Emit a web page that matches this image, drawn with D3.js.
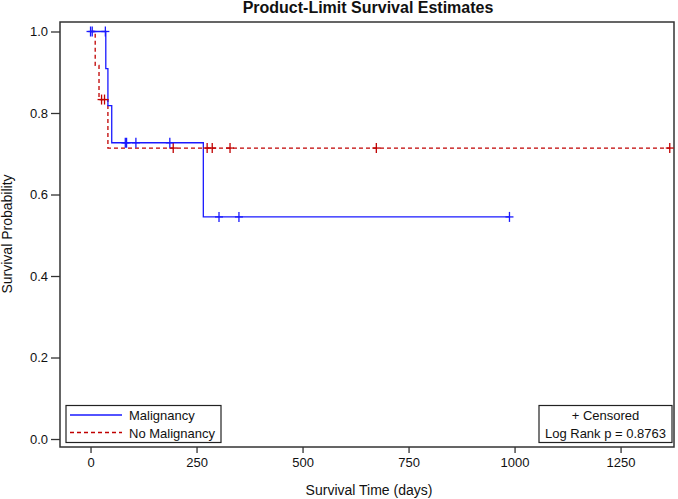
<!DOCTYPE html>
<html><head><meta charset="utf-8">
<script src="https://cdn.jsdelivr.net/npm/d3@7"></script>
<style>body{margin:0;background:#fff}svg{display:block}text{font-family:Arial,"Liberation Sans",sans-serif}</style>
</head><body><svg id="c" width="678" height="499"></svg>
<script>
// Malignancy (blue, solid)
const malEventTimes = [36, 41, 50, 266];
const malSurvival = [0.909, 0.818, 0.727, 0.545];
const malLastTime = 988;
const malCensorTimes = [0, 4, 35, 82, 85, 107, 187, 303, 350, 988];
// No Malignancy (red, dashed)
const noEventTimes = [11, 20, 41];
const noSurvival = [0.917, 0.833, 0.714];
const noLastTime = 1366;
const noCensorTimes = [26, 33, 195, 275, 287, 329, 674, 1366];
const xTicks = [0, 250, 500, 750, 1000, 1250];
const yTicks = [0.0, 0.2, 0.4, 0.6, 0.8, 1.0];
const legendLabels = ["Malignancy", "No Malignancy"];
const statLabels = ["+ Censored", "Log Rank p = 0.8763"];

const svg = d3.select("#c");
const L = 60, R = 674, T = 22, B = 447;
const x = d3.scaleLinear().domain([-72, 1376]).range([L, R]);
const y = d3.scaleLinear().domain([-0.0196, 1.0233]).range([B, T]);

function steps(evT, surv, last) {
  const pts = [[0, 1]];
  let s = 1;
  evT.forEach((t, i) => { pts.push([t, s]); s = surv[i]; pts.push([t, s]); });
  pts.push([last, s]);
  return pts;
}
function survAt(evT, surv, t) {
  let s = 1;
  evT.forEach((e, i) => { if (e <= t) s = surv[i]; });
  return s;
}
const line = d3.line().x(d => x(d[0])).y(d => y(d[1]));

// frame
svg.append("rect").attr("x", L).attr("y", T).attr("width", R - L).attr("height", B - T)
  .attr("fill", "none").attr("stroke", "#333").attr("stroke-width", 1.5);

// axes
const xa = svg.append("g").attr("transform", `translate(0,${B})`)
  .call(d3.axisBottom(x).tickValues(xTicks).tickSize(6).tickPadding(5).tickFormat(d3.format("d")));
const ya = svg.append("g").attr("transform", `translate(${L},0)`)
  .call(d3.axisLeft(y).tickValues(yTicks).tickSize(9).tickPadding(3).tickFormat(d3.format(".1f")));
[xa, ya].forEach(g => {
  g.select(".domain").remove();
  g.selectAll("line").attr("stroke", "#333").attr("stroke-width", 1.3);
  g.selectAll("text").attr("font-size", 13).attr("fill", "#111").attr("font-family", "Arial, 'Liberation Sans', sans-serif");
});

// curves
const blue = "#1a1aff", red = "#c00000";
svg.append("path").datum(steps(noEventTimes, noSurvival, noLastTime)).attr("d", line)
  .attr("fill", "none").attr("stroke", red).attr("stroke-width", 1.3).attr("stroke-dasharray", "4,3");
svg.append("path").datum(steps(malEventTimes, malSurvival, malLastTime)).attr("d", line)
  .attr("fill", "none").attr("stroke", blue).attr("stroke-width", 1.3);

function censors(times, evT, surv, color) {
  const g = svg.append("g").attr("stroke", color).attr("stroke-width", 1.3);
  times.forEach(t => {
    const cx = x(t), cy = y(survAt(evT, surv, t));
    g.append("line").attr("x1", cx - 4).attr("x2", cx + 4).attr("y1", cy).attr("y2", cy);
    g.append("line").attr("x1", cx).attr("x2", cx).attr("y1", cy - 5).attr("y2", cy + 5);
  });
}
censors(noCensorTimes, noEventTimes, noSurvival, red);
censors(malCensorTimes, malEventTimes, malSurvival, blue);

// title and axis labels
svg.append("text").attr("x", 368).attr("y", 13).attr("text-anchor", "middle")
  .attr("font-size", 16).attr("font-weight", "bold").attr("fill", "#111").text("Product-Limit Survival Estimates");
svg.append("text").attr("x", 369).attr("y", 495).attr("text-anchor", "middle")
  .attr("font-size", 14).attr("fill", "#111").text("Survival Time (days)");
svg.append("text").attr("transform", "translate(12,234) rotate(-90)").attr("text-anchor", "middle")
  .attr("font-size", 14).attr("fill", "#111").text("Survival Probability");

// legend
svg.append("rect").attr("x", 66).attr("y", 405.5).attr("width", 155).attr("height", 37)
  .attr("fill", "#fff").attr("stroke", "#222").attr("stroke-width", 1.2);
const legColors = [blue, red], legDash = [null, "4,3"];
legendLabels.forEach((lab, i) => {
  const ly = 415 + i * 17.5;
  svg.append("line").attr("x1", 70).attr("x2", 122).attr("y1", ly).attr("y2", ly)
    .attr("stroke", legColors[i]).attr("stroke-width", 1.3).attr("stroke-dasharray", legDash[i]);
  svg.append("text").attr("x", 129).attr("y", ly + 5).attr("font-size", 13).attr("fill", "#111").text(lab);
});
svg.append("rect").attr("x", 539).attr("y", 405.5).attr("width", 133).attr("height", 37)
  .attr("fill", "#fff").attr("stroke", "#222").attr("stroke-width", 1.2);
statLabels.forEach((lab, i) => {
  svg.append("text").attr("x", 605.5).attr("y", 420 + i * 17.5).attr("text-anchor", "middle")
    .attr("font-size", 13).attr("fill", "#111").text(lab);
});
</script></body></html>
